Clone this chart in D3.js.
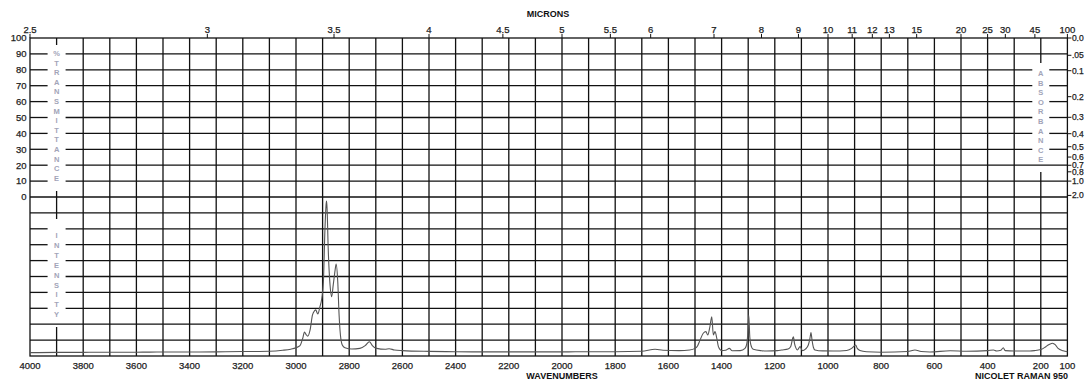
<!DOCTYPE html>
<html><head><meta charset="utf-8">
<script src="https://cdn.jsdelivr.net/npm/d3@7"></script>
<style>body{margin:0;background:#fff}svg{display:block}</style>
</head><body>
<svg id="c" width="1085" height="380"></svg>
<script>
// ---- data ----
const wavenumbers = [4000,3900,3800,3700,3600,3500,3400,3300,3200,3100,3050,3020,3000,2985,2975,2968,2962,2956,2947,2938,2930,2926,2918,2910,2903,2897,2891,2887,2885,2883,2879,2872,2866,2860,2853,2849,2843,2838,2833,2826,2816,2790,2760,2740,2724,2713,2697,2665,2650,2630,2600,2500,2400,2300,2200,2100,2000,1900,1800,1700,1650,1620,1560,1520,1500,1490,1481,1469,1459,1452,1444,1437,1431,1425,1418,1412,1400,1385,1371,1360,1330,1312,1305,1302,1298,1294,1290,1281,1250,1230,1190,1174,1150,1140,1133,1130,1126,1120,1115,1105,1096,1085,1074,1068,1064,1060,1055,1049,1020,980,930,911,900,896,890,880,855,800,700,673,650,617,541,480,400,378,366,350,341,334,300,241,220,197,180,172,160,156,150,147,135,116,100];
const intensity = [2.1,2.3,2.3,2.4,2.4,2.5,2.5,2.6,2.8,3.0,3.6,4.3,5.2,6.5,11.0,15.0,13.5,12.5,16.5,25.8,28.5,29.0,26.4,31.0,36.3,46.7,80.5,95,97.5,92,68,44.7,37.3,44.7,54,57.9,46.7,25.8,13.2,6.9,5.2,4.4,4.8,6.5,9.0,6.5,4.8,4.2,4.6,3.8,3.4,2.9,2.7,2.6,2.6,2.6,2.6,2.7,2.7,3.0,4.2,3.6,3.4,3.8,4.8,6.5,10,14.3,15.3,13.2,18.4,24.7,13.2,15.3,11.1,5.9,3.4,3.6,4.8,3.3,3.4,4.8,8,13,25.8,12,7,4.2,3.3,3.1,3.4,3.8,4.4,6,11,12.1,8,4.8,3.8,5.9,3.4,4.3,6.9,11,14.7,10,5.5,3.8,3.2,3.1,3.5,4.8,6.5,6.9,4.8,3.5,2.7,2.4,2.8,3.8,2.8,2.5,3.3,3.0,3.4,3.8,3.1,3.6,5.2,3.4,3.1,3.1,3.5,4.2,6,6.9,7.9,8,7.6,7.3,4.8,3.3,2.7];
const bottomTicks = [4000,3800,3600,3400,3200,3000,2800,2600,2400,2200,2000,1800,1600,1400,1200,1000,800,600,400,200,100];
const micronTicks = [2.5,3,3.5,4,4.5,5,5.5,6,7,8,9,10,11,12,13,15,20,25,30,45,100];
const transTicks = [0,10,20,30,40,50,60,70,80,90,100];
const absTicks = [0,0.05,0.1,0.2,0.3,0.4,0.5,0.6,0.7,0.8,1.0,2.0];
const absLabels = ["0.0",".05","0.1","0.2","0.3","0.4","0.5","0.6","0.7","0.8","1.0","2.0"];
const leftLabel1 = "%TRANSMITTANCE";
const leftLabel2 = "INTENSITY";
const rightLabel = "ABSORBANCE";

// ---- layout ----
const L = 30, R = 1067.4, T = 38, M = 197, B = 356;
const svg = d3.select("#c");
const x = d3.scaleLinear().domain([4000,100]).range([L,R]);
const yT = d3.scaleLinear().domain([0,100]).range([M,T]);
const yI = d3.scaleLinear().domain([0,100]).range([B,M]);
const FONT = "'Liberation Sans', Arial, sans-serif";
const gridColor = "#111", gw = 1.3;

const g = svg.append("g");
const lcx = x(3900), rcx = x(200);
const lgap = [lcx-9, lcx+9], rgap = [rcx-8.5, rcx+8.5];

function hline(y, gapL, gapR){
  let segs = [[L,R]];
  if (gapL) segs = [[L,lgap[0]],[lgap[1],R]];
  if (gapR) { const last = segs.pop(); segs.push([last[0], rgap[0]],[rgap[1], last[1]]); }
  segs.forEach(s => g.append("line").attr("x1",s[0]).attr("x2",s[1]).attr("y1",y).attr("y2",y)
    .attr("stroke",gridColor).attr("stroke-width",gw));
}
// horizontal grid
[10,20,30,40,50,60,70,80,90].forEach(v => hline(yT(v), true, v>=30 && v<=80));
hline(yT(0), false, false);
[10,20,30,40,50,60,70,80,90].forEach(v => hline(yI(v), v>=30 && v<=80, false));

// vertical grid
d3.range(3800,200,-100).forEach(w => g.append("line").attr("x1",x(w)).attr("x2",x(w)).attr("y1",T).attr("y2",B)
  .attr("stroke",gridColor).attr("stroke-width",gw));
// partial column lines
[[T,45],[191,219],[327,B]].forEach(s => g.append("line").attr("x1",lcx).attr("x2",lcx).attr("y1",s[0]).attr("y2",s[1]).attr("stroke",gridColor).attr("stroke-width",gw));
[[T,63],[172,B]].forEach(s => g.append("line").attr("x1",rcx).attr("x2",rcx).attr("y1",s[0]).attr("y2",s[1]).attr("stroke",gridColor).attr("stroke-width",gw));

// border
g.append("rect").attr("x",L).attr("y",T).attr("width",R-L).attr("height",B-T)
  .attr("fill","none").attr("stroke",gridColor).attr("stroke-width",gw);

// vertical letter labels
function vlabel(str, cx, y0, step){
  str.split("").forEach((ch,i) => svg.append("text").attr("x",cx).attr("y",y0+i*step)
    .attr("text-anchor","middle").attr("font-family",FONT).attr("font-size",7.5).attr("font-weight","bold")
    .attr("fill","#a2a4b8").text(ch));
}
vlabel(leftLabel1, lcx, 56, 9.6);
vlabel(leftLabel2, lcx, 238, 9.9);
vlabel(rightLabel, rcx, 76, 9.6);

// spectrum
const pts = wavenumbers.map((w,i)=>[w,intensity[i]]);
svg.append("path").datum(pts)
  .attr("d", d3.line().x(d=>x(d[0])).y(d=>yI(d[1])).curve(d3.curveMonotoneX))
  .attr("fill","none").attr("stroke","#555").attr("stroke-width",1.1);

function label(sel){ return sel.attr("font-family",FONT).attr("fill","#222").attr("stroke","#222").attr("stroke-width",0.25); }

// left labels
transTicks.forEach(v => label(svg.append("text").attr("x",26.5).attr("y",yT(v)).attr("dy","0.35em")
  .attr("text-anchor","end").attr("font-size",9.5)).text(v));

// right absorbance
absTicks.forEach((a,i) => {
  const yy = yT(100*Math.pow(10,-a));
  svg.append("line").attr("x1",R).attr("x2",R+4).attr("y1",yy).attr("y2",yy).attr("stroke",gridColor).attr("stroke-width",1);
  label(svg.append("text").attr("x",R+4.5).attr("y",yy).attr("dy","0.35em").attr("font-size",8.5)).text(absLabels[i]);
});

// top microns
micronTicks.forEach(m => {
  const xx = x(10000/m);
  svg.append("line").attr("x1",xx).attr("x2",xx).attr("y1",T-4).attr("y2",T).attr("stroke",gridColor).attr("stroke-width",1);
  label(svg.append("text").attr("x",xx).attr("y",33).attr("text-anchor","middle").attr("font-size",9.5)).text(m);
});
svg.append("text").attr("x",548).attr("y",17).attr("text-anchor","middle").attr("font-family",FONT)
  .attr("font-size",9).attr("font-weight","bold").attr("fill","#111").text("MICRONS");

// bottom wavenumbers
bottomTicks.forEach(w => label(svg.append("text").attr("x",x(w)).attr("y",368.5).attr("text-anchor","middle")
  .attr("font-size",9.5)).text(w));
svg.append("text").attr("x",562).attr("y",379).attr("text-anchor","middle").attr("font-family",FONT)
  .attr("font-size",9).attr("font-weight","bold").attr("fill","#111").text("WAVENUMBERS");
svg.append("text").attr("x",1068).attr("y",379).attr("text-anchor","end").attr("font-family",FONT)
  .attr("font-size",9).attr("font-weight","bold").attr("fill","#111").text("NICOLET RAMAN 950");
</script>
</body></html>
